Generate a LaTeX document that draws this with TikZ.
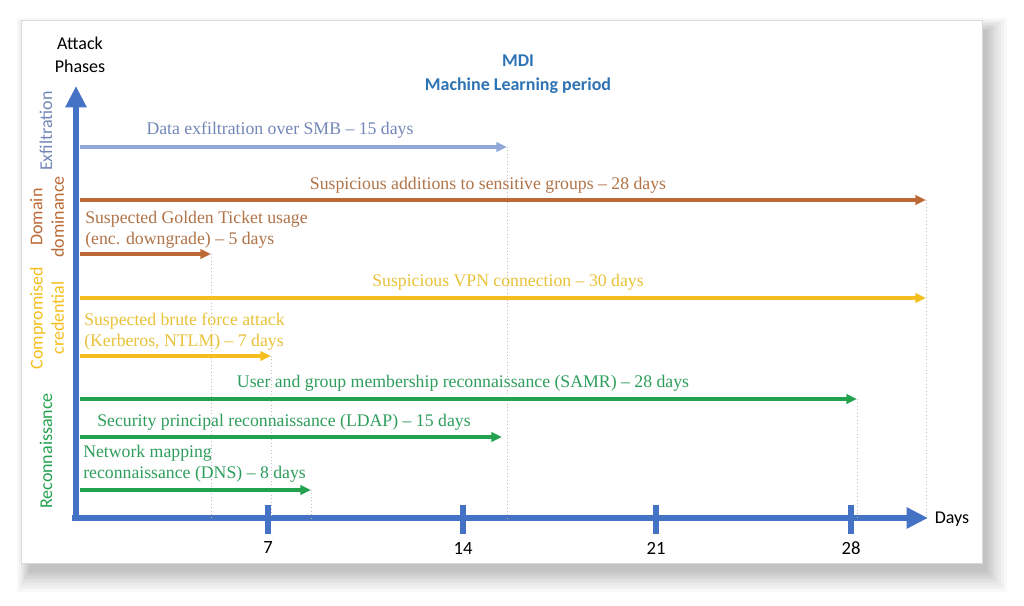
\documentclass[tikz,border=0pt]{standalone}
\usepackage{fontspec}
\setmainfont{Liberation Serif}
\newfontfamily\calfont{Carlito}
\usetikzlibrary{arrows.meta}
\definecolor{axisblue}{HTML}{4472C4}
\definecolor{exfilc}{HTML}{8FA8D8}
\definecolor{exfilt}{HTML}{7287B8}
\definecolor{brownc}{HTML}{BC6A35}
\definecolor{brownt}{HTML}{B07448}
\definecolor{yellowc}{HTML}{F5BE1E}
\definecolor{yellowt}{HTML}{E9C238}
\definecolor{greenc}{HTML}{22A24E}
\definecolor{greent}{HTML}{2E9E5C}
\definecolor{mdiblue}{HTML}{2E74B5}
\tikzset{
  axisline/.style={axisblue, line width=4.5pt},
  tickmark/.style={axisblue, line width=4.5pt},
  det/.style={line width=2.3pt, -{Triangle[length=8pt,width=7pt]}},
  guide/.style={gray!50, dotted, line width=0.6pt},
  lbl/.style={font=\fontsize{13.3}{15.5}\selectfont, inner sep=0pt},
  lbll/.style={lbl, anchor=west, align=left},
  phase/.style={font=\calfont\fontsize{13.5}{16}\selectfont, rotate=90, inner sep=0pt, align=center},
  sans/.style={font=\calfont\fontsize{13.5}{17.5}\selectfont, inner sep=0pt, align=center},
  num/.style={font=\calfont\fontsize{14}{16}\selectfont, inner sep=0pt},
}
\begin{document}
\begin{tikzpicture}[x=0.75pt,y=-0.75pt]
\useasboundingbox (0,0) rectangle (1024,606);
\fill[white] (0,0) rectangle (1024,606);
% manual soft shadow
\foreach \r in {20,17,14,11,8,6,4,2,0}{
  \fill[black, opacity=0.028] (21+8-0.6*\r,20+10-0.6*\r) rectangle (982+5+\r,563+9+\r);
}
\path[fill=white, draw=gray!30, line width=0.6pt] (21,20) rectangle (982,563);

% axes
\coordinate (origin) at (76,518);
\coordinate (xend) at (928,518);
\coordinate (yend) at (76,86);
\coordinate (xstart) at (72,518);
\coordinate (ystart) at (76,521);
\draw[axisline, -{Triangle[length=16pt,width=15pt]}] (xstart) -- (xend);
\draw[axisline, -{Triangle[length=16pt,width=15pt]}] (ystart) -- (yend);

% ticks
\foreach \xx/\lab/\nm in {268/7/a,463/14/b,656/21/c,851/28/d}{
  \coordinate (t\nm top) at (\xx,505);
  \coordinate (t\nm bot) at (\xx,534);
  \draw[tickmark] (t\nm top) -- (t\nm bot);
  \node[num] (n\nm) at (\xx,548) {\lab};
}

% titles
\node[sans] (attack) at (80,55) {Attack\\Phases};
\node[sans] (days) at (952,519) {Days};
\node[sans, text=mdiblue, font=\calfont\bfseries\fontsize{13.5}{18}\selectfont] (mdi) at (518,74) {MDI\\Machine Learning period};

% phase labels
\node[phase, text=exfilt] (pexf) at (46,131) {Exfiltration};
\node[phase, text=brownc] (pdom) at (47,217) {Domain\\dominance};
\node[phase, text=yellowc] (pcc) at (47,318) {Compromised\\credential};
\node[phase, text=greenc] (prec) at (46,451) {Reconnaissance};

% arrow coordinates
\coordinate (exS) at (80,147);  \coordinate (exE) at (507,147);
\coordinate (saS) at (80,200);  \coordinate (saE) at (926,200);
\coordinate (gtS) at (80,254);  \coordinate (gtE) at (211,254);
\coordinate (vpS) at (80,298);  \coordinate (vpE) at (926,298);
\coordinate (bfS) at (80,356);  \coordinate (bfE) at (271,356);
\coordinate (smS) at (80,399);  \coordinate (smE) at (857,399);
\coordinate (ldS) at (80,437);  \coordinate (ldE) at (502,437);
\coordinate (dnS) at (80,490);  \coordinate (dnE) at (311,490);

% guides
\draw[guide] (exE) -- (exE |- origin);
\draw[guide] (saE) -- (saE |- origin);
\draw[guide] (gtE) -- (gtE |- origin);
\draw[guide] (bfE) -- (bfE |- origin);
\draw[guide] (smE) -- (smE |- origin);
\draw[guide] (dnE) -- (dnE |- origin);

% arrows
\draw[det, exfilc] (exS) -- (exE);
\draw[det, brownc] (saS) -- (saE);
\draw[det, brownc] (gtS) -- (gtE);
\draw[det, yellowc] (vpS) -- (vpE);
\draw[det, yellowc] (bfS) -- (bfE);
\draw[det, greenc] (smS) -- (smE);
\draw[det, greenc] (ldS) -- (ldE);
\draw[det, greenc] (dnS) -- (dnE);

% labels
\node[lbl, text=exfilt] (lex) at (280,130) {Data exfiltration over SMB – 15 days};
\node[lbl, text=brownt] (lsa) at (488,185) {Suspicious additions to sensitive groups – 28 days};
\node[lbll, text=brownt] (lgt) at (85,230) {Suspected Golden Ticket usage\\(enc. downgrade) – 5 days};
\node[lbl, text=yellowt] (lvp) at (508,282) {Suspicious VPN connection – 30 days};
\node[lbll, text=yellowt] (lbf) at (84,332) {Suspected brute force attack\\(Kerberos, NTLM) – 7 days};
\node[lbl, text=greent] (lsm) at (463,383) {User and group membership reconnaissance (SAMR) – 28 days};
\node[lbl, text=greent] (lld) at (284,422) {Security principal reconnaissance (LDAP) – 15 days};
\node[lbll, text=greent] (ldn) at (83,464) {Network mapping\\reconnaissance (DNS) – 8 days};
\end{tikzpicture}
\end{document}
